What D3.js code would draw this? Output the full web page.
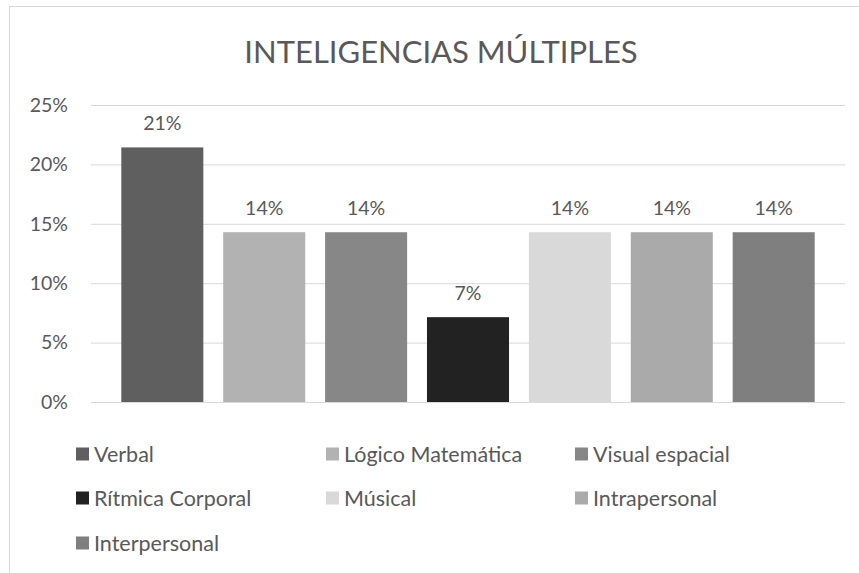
<!DOCTYPE html>
<html>
<head>
<meta charset="utf-8">
<script src="https://cdn.jsdelivr.net/npm/d3@7"></script>
<style>
  body { margin: 0; background: #fff; }
  svg text { font-family: Lato, "Open Sans", sans-serif; fill: #595959; }
</style>
</head>
<body>
<svg id="chart" width="859" height="573"></svg>
<script>
// data
const categories = ["Verbal", "Lógico Matemática", "Visual espacial", "Rítmica Corporal", "Músical", "Intrapersonal", "Interpersonal"];
const values = [0.2143, 0.1429, 0.1429, 0.0714, 0.1429, 0.1429, 0.1429];
const colors = ["#5f5f5f", "#b2b2b2", "#878787", "#222222", "#d9d9d9", "#aaaaaa", "#7f7f7f"];
const yTicks = [0, 0.05, 0.10, 0.15, 0.20, 0.25];

const svg = d3.select("#chart");
const plot = { left: 91, right: 845, top: 105, bottom: 402 };

// outer border (right/bottom run off the canvas)
svg.append("rect")
  .attr("x", 9.5).attr("y", 6.5)
  .attr("width", 900).attr("height", 600)
  .style("fill", "none")
  .style("stroke", "#d9d9d9")
  .style("stroke-width", 1);

svg.append("text")
  .attr("x", 441).attr("y", 63)
  .attr("text-anchor", "middle")
  .style("font-size", "31px")
  .text("INTELIGENCIAS MÚLTIPLES");

const x = d3.scaleBand()
  .domain(categories)
  .range([plot.left, plot.right])
  .paddingInner(0.195)
  .paddingOuter(0.2975);

const y = d3.scaleLinear()
  .domain([0, 0.25])
  .range([plot.bottom, plot.top]);

// gridlines + tick labels
const yAxis = d3.axisLeft(y)
  .tickValues(yTicks)
  .tickFormat(d3.format(".0%"))
  .tickSize(-(plot.right - plot.left))
  .tickPadding(23);

const gy = svg.append("g")
  .attr("transform", `translate(${plot.left},0)`)
  .call(yAxis);
gy.select(".domain").remove();
gy.selectAll(".tick line").style("stroke", "#d9d9d9").style("stroke-width", 1);
gy.selectAll(".tick text")
  .style("font-family", "Lato, sans-serif")
  .style("font-size", "19.5px")
  .style("fill", "#595959");

// bars
svg.append("g").selectAll("rect")
  .data(categories)
  .join("rect")
  .attr("x", (d) => x(d))
  .attr("y", (d, i) => y(values[i]))
  .attr("width", x.bandwidth())
  .attr("height", (d, i) => y(0) - y(values[i]))
  .style("fill", (d, i) => colors[i]);

// value labels
svg.append("g").selectAll("text")
  .data(categories)
  .join("text")
  .attr("x", (d) => x(d) + x.bandwidth() / 2)
  .attr("y", (d, i) => y(values[i]) - 17)
  .attr("text-anchor", "middle")
  .style("font-size", "19.5px")
  .text((d, i) => d3.format(".0%")(values[i]));

// legend, 3 per row
const legendCols = [76, 326, 575];
const legendRows = [454, 498, 543];
const legend = svg.append("g").selectAll("g")
  .data(categories)
  .join("g")
  .attr("transform", (d, i) => `translate(${legendCols[i % 3]},${legendRows[Math.floor(i / 3)]})`);

legend.append("rect")
  .attr("x", 0).attr("y", -6.5)
  .attr("width", 13).attr("height", 13)
  .style("fill", (d, i) => colors[i]);

legend.append("text")
  .attr("x", 18).attr("y", 0)
  .attr("dy", "0.35em")
  .style("font-size", "21.5px")
  .text((d) => d);
</script>
</body>
</html>
